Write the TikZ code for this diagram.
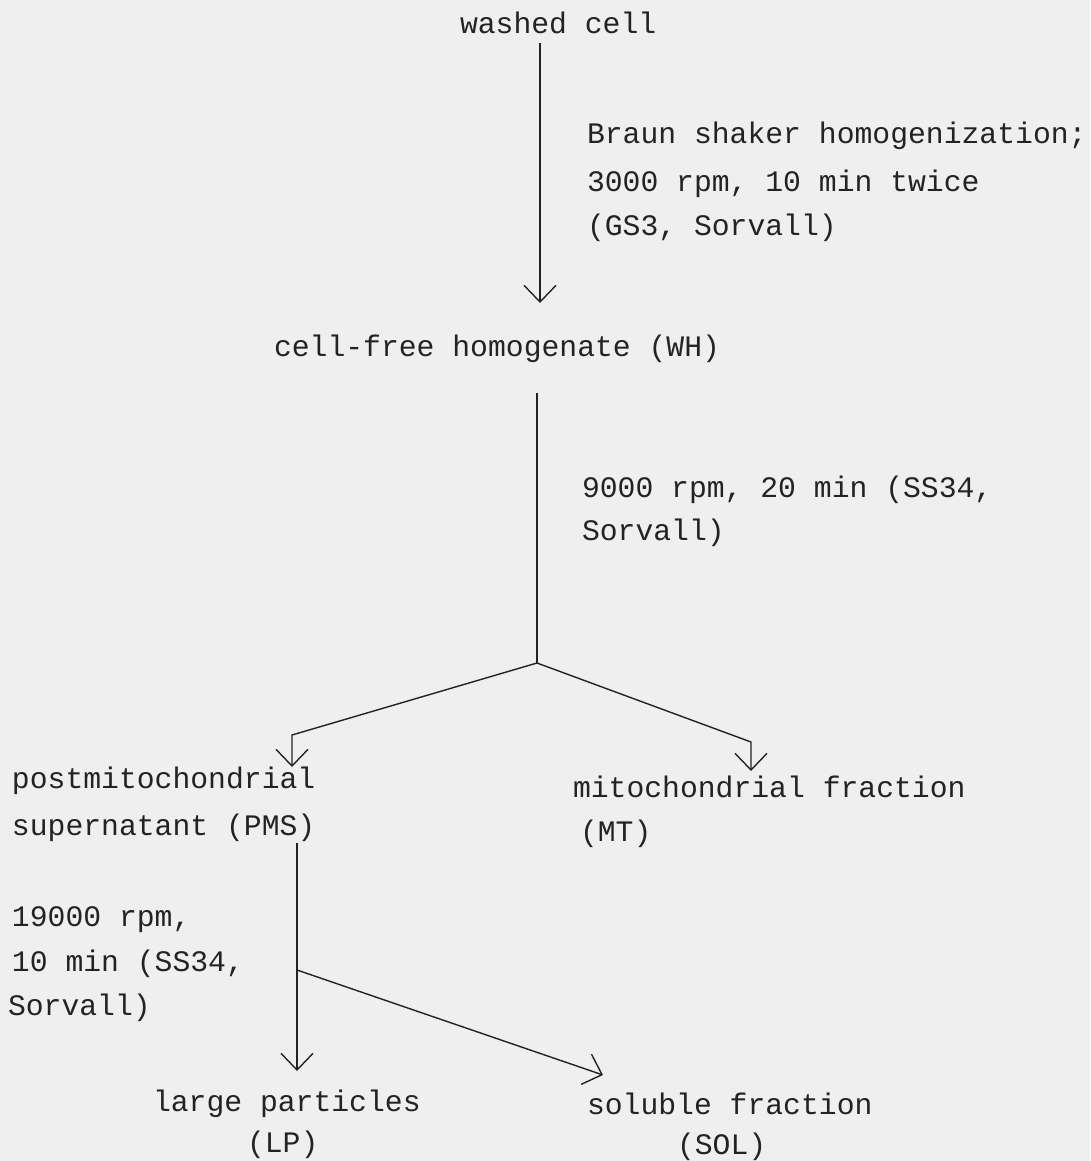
\documentclass[tikz,border=0pt]{standalone}
\usepackage{fontspec}
\setmonofont{Liberation Mono}
\usetikzlibrary{arrows.meta}
\definecolor{paper}{RGB}{239,239,239}
\definecolor{ink}{RGB}{35,35,35}
\begin{document}
\begin{tikzpicture}[x=0.75pt,y=-0.75pt,
  lbl/.style={inner sep=0pt,outer sep=0pt,anchor=base west,text=ink,
    font=\ttfamily\fontsize{22.3pt}{33.75pt}\selectfont},
  flow/.style={draw=ink,line width=1.05pt},
  arr/.style={flow,-{Straight Barb[length=12.5pt,width=24pt,line width=1.05pt]}}]
\fill[paper] (0,0) rectangle (1090,1161);
\useasboundingbox (0,0) rectangle (1090,1161);
% texts
\node[lbl] (wc) at (460,33) {washed cell};
\node[lbl] (b1) at (587,143) {Braun shaker homogenization;};
\node[lbl] (b2) at (587,191) {3000 rpm, 10 min twice};
\node[lbl] (b3) at (587,235) {(GS3, Sorvall)};
\node[lbl] (wh) at (274,356) {cell-free homogenate (WH)};
\node[lbl] (c1) at (582,497) {9000 rpm, 20 min (SS34,};
\node[lbl] (c2) at (582,540) {Sorvall)};
\node[lbl] (pm1) at (12,788) {postmitochondrial};
\node[lbl] (pm2) at (12,835) {supernatant (PMS)};
\node[lbl] (mt1) at (573,797) {mitochondrial fraction};
\node[lbl] (mt2) at (580,841) {(MT)};
\node[lbl] (d1) at (12,926) {19000 rpm,};
\node[lbl] (d2) at (12,971) {10 min (SS34,};
\node[lbl] (d3) at (8,1015) {Sorvall)};
\node[lbl] (lp1) at (153,1111) {large particles};
\node[lbl] (lp2) at (247,1152) {(LP)};
\node[lbl] (sol1) at (587,1114) {soluble fraction};
\node[lbl] (sol2) at (677,1154) {(SOL)};
% connector points
\coordinate (s1) at (540,43);
\coordinate (e1) at (540,303);
\coordinate (s2) at (537,393);
\coordinate (j) at (537,663);
\coordinate (lk) at (292,735);
\coordinate (le) at (292,767);
\coordinate (rk) at (751,742);
\coordinate (re) at (751,771);
\coordinate (s3) at (297,843);
\coordinate (e3) at (297,1071);
\coordinate (k3) at (297,970);
\coordinate (e4) at (603,1075);
% connectors
\draw[arr] (s1) -- (e1);
\draw[flow] (s2) -- (j);
\draw[arr] (j) -- (lk) -- (le);
\draw[arr] (j) -- (rk) -- (re);
\draw[arr] (s3) -- (e3);
\draw[arr] (k3) -- (e4);
\end{tikzpicture}
\end{document}
